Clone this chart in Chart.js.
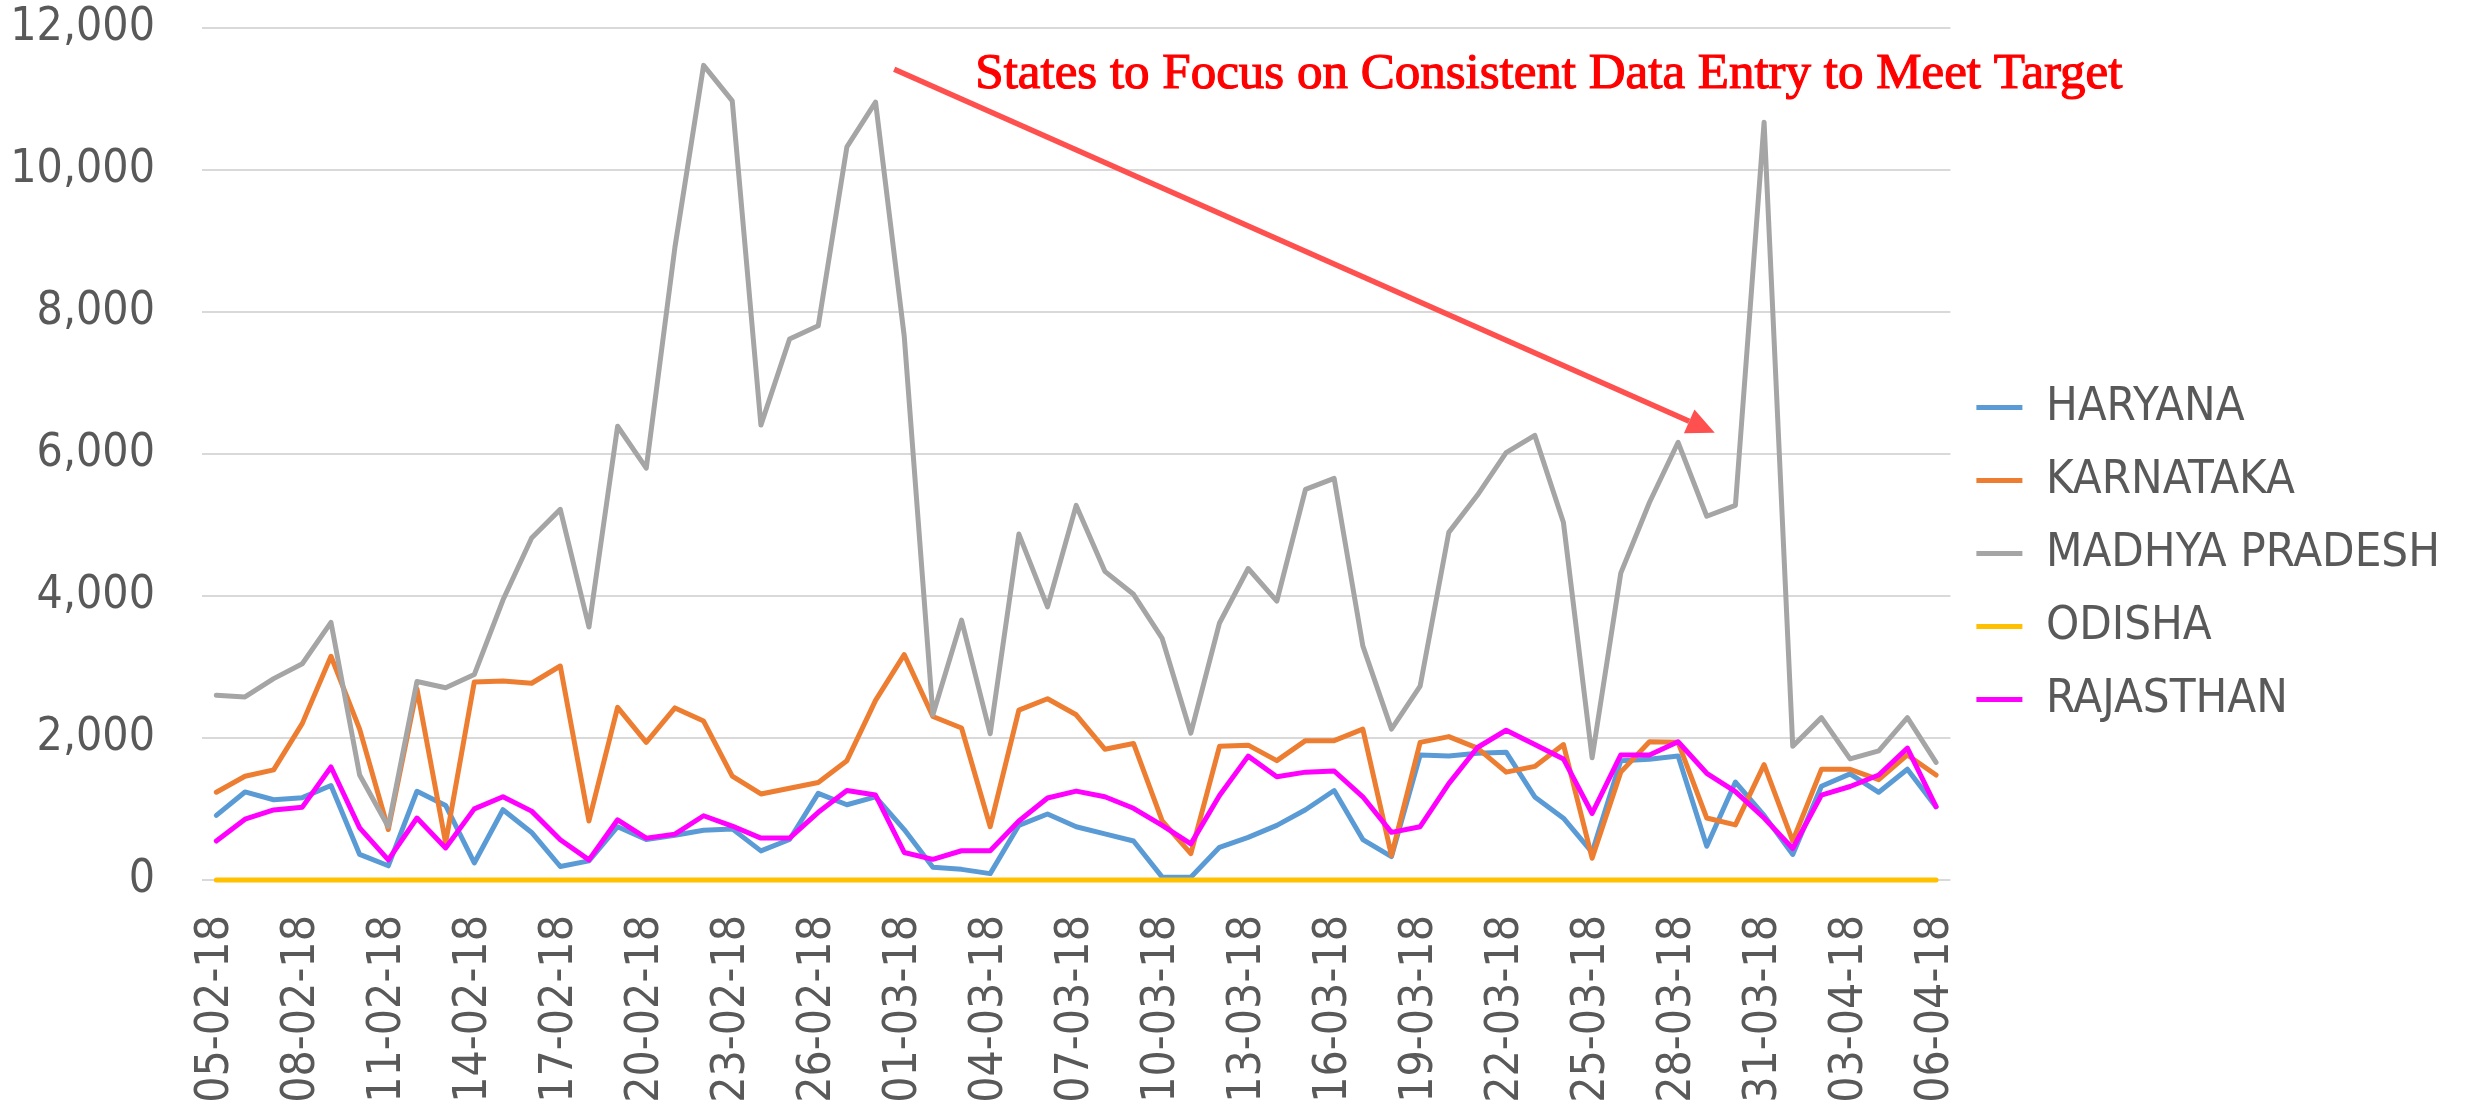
<!DOCTYPE html>
<html>
<head>
<meta charset="utf-8">
<script src="https://cdn.jsdelivr.net/npm/chart.js@4.4.1/dist/chart.umd.min.js"></script>
<style>
  html, body { margin: 0; padding: 0; background: #fff; }
  #wrap { width: 2468px; height: 1107px; position: relative; }
</style>
</head>
<body>
<div id="wrap"><canvas id="chart"></canvas></div>
<script>
// daily dates, 05-02-18 .. 06-04-18
const dates = [
  "05-02-18","06-02-18","07-02-18","08-02-18","09-02-18","10-02-18","11-02-18","12-02-18",
  "13-02-18","14-02-18","15-02-18","16-02-18","17-02-18","18-02-18","19-02-18","20-02-18",
  "21-02-18","22-02-18","23-02-18","24-02-18","25-02-18","26-02-18","27-02-18","28-02-18",
  "01-03-18","02-03-18","03-03-18","04-03-18","05-03-18","06-03-18","07-03-18","08-03-18",
  "09-03-18","10-03-18","11-03-18","12-03-18","13-03-18","14-03-18","15-03-18","16-03-18",
  "17-03-18","18-03-18","19-03-18","20-03-18","21-03-18","22-03-18","23-03-18","24-03-18",
  "25-03-18","26-03-18","27-03-18","28-03-18","29-03-18","30-03-18","31-03-18","01-04-18",
  "02-04-18","03-04-18","04-04-18","05-04-18","06-04-18"
];

const haryana = [
  910, 1240, 1130, 1160, 1330, 360, 200, 1250, 1050, 240, 990, 670, 190, 270, 750, 570,
  630, 700, 720, 410, 570, 1220, 1060, 1170, 710, 180, 150, 90, 770, 930, 750, 650,
  550, 40, 40, 460, 600, 770, 990, 1260, 570, 330, 1760, 1745, 1785, 1800, 1170, 870,
  390, 1680, 1700, 1745, 475, 1380, 910, 360, 1320, 1495, 1235, 1560, 1030
];
const karnataka = [
  1236, 1462, 1551, 2206, 3151, 2125, 711, 2690, 525, 2788, 2804, 2771, 3014, 832, 2432, 1939,
  2424, 2238, 1462, 1212, 1293, 1374, 1681, 2529, 3175, 2303, 2141, 751, 2392, 2553, 2327, 1842,
  1923, 832, 372, 1883, 1899, 1681, 1963, 1963, 2125, 347, 1939, 2020, 1858, 1519, 1600, 1907,
  307, 1519, 1947, 1939, 873, 776, 1624, 549, 1559, 1559, 1414, 1761, 1479
];
const madhyaPradesh = [
  2602, 2578, 2836, 3046, 3628, 1479, 751, 2796, 2707, 2893, 3943, 4816, 5220, 3563, 6391, 5801,
  8912, 11474, 10973, 6407, 7619, 7805, 10326, 10956, 7660, 2327, 3660, 2060, 4872, 3846, 5276, 4347,
  4024, 3402, 2068, 3620, 4387, 3927, 5502, 5656, 3297, 2125, 2731, 4896, 5422, 6020, 6262, 5034,
  1721, 4323, 5317, 6165, 5123, 5276, 10674, 1883, 2287, 1705, 1818, 2287, 1656
];
const odisha = [
  0, 0, 0, 0, 0, 0, 0, 0, 0, 0, 0, 0, 0, 0, 0, 0,
  0, 0, 0, 0, 0, 0, 0, 0, 0, 0, 0, 0, 0, 0, 0, 0,
  0, 0, 0, 0, 0, 0, 0, 0, 0, 0, 0, 0, 0, 0, 0, 0,
  0, 0, 0, 0, 0, 0, 0, 0, 0, 0, 0, 0, 0
];
const rajasthan = [
  549, 856, 986, 1026, 1592, 735, 283, 873, 452, 1002, 1172, 970, 566, 283, 848, 590,
  646, 905, 760, 590, 590, 953, 1260, 1196, 388, 291, 412, 412, 832, 1155, 1252, 1172,
  1010, 768, 509, 1190, 1745, 1454, 1519, 1535, 1172, 671, 751, 1357, 1866, 2109, 1907, 1705,
  937, 1761, 1761, 1947, 1503, 1244, 873, 444, 1196, 1317, 1479, 1858, 1034
];

const seriesNames = ["HARYANA", "KARNATAKA", "MADHYA PRADESH", "ODISHA", "RAJASTHAN"];
const seriesColors = ["#5B9BD5", "#ED7D31", "#A5A5A5", "#FFC000", "#FF00FF"];
const yTicks = [0, 2000, 4000, 6000, 8000, 10000, 12000];

// callout: text and arrow, placed in data units (category index, value)
const noteText = "States to Focus on Consistent Data Entry to Meet Target";
const notePos = [26.48, 11150];
const arrowFrom = [23.65, 11420];
const arrowTo = [52.28, 6300];

const FONT = "'DejaVu Sans Condensed', 'DejaVu Sans', sans-serif";
const TEXT = "#595959";

const allSeries = [haryana, karnataka, madhyaPradesh, odisha, rajasthan];
const datasets = allSeries.map((vals, i) => ({
  label: seriesNames[i],
  data: vals,
  borderColor: seriesColors[i],
  backgroundColor: seriesColors[i],
  borderWidth: 5,
  borderCapStyle: "round",
  borderJoinStyle: "round",
  pointRadius: 0,
  tension: 0,
  clip: false,
  order: allSeries.length - i,
}));

const calloutPlugin = {
  id: "callout",
  afterDatasetsDraw(chart) {
    const { ctx, scales } = chart;
    const xs = scales.x, ys = scales.y;
    const x1 = xs.getPixelForValue(arrowFrom[0]), y1 = ys.getPixelForValue(arrowFrom[1]);
    const x2 = xs.getPixelForValue(arrowTo[0]), y2 = ys.getPixelForValue(arrowTo[1]);
    const ang = Math.atan2(y2 - y1, x2 - x1);
    const headLen = 28, headHalf = 13;
    const bx = x2 - headLen * Math.cos(ang), by = y2 - headLen * Math.sin(ang);

    ctx.save();
    ctx.strokeStyle = "#FF5050";
    ctx.fillStyle = "#FF5050";
    ctx.lineWidth = 5.5;
    ctx.beginPath();
    ctx.moveTo(x1, y1);
    ctx.lineTo(bx, by);
    ctx.stroke();
    ctx.beginPath();
    ctx.moveTo(x2, y2);
    ctx.lineTo(bx + headHalf * Math.sin(ang), by - headHalf * Math.cos(ang));
    ctx.lineTo(bx - headHalf * Math.sin(ang), by + headHalf * Math.cos(ang));
    ctx.closePath();
    ctx.fill();

    const tx = xs.getPixelForValue(notePos[0]), ty = ys.getPixelForValue(notePos[1]);
    ctx.fillStyle = "#FF0000";
    ctx.strokeStyle = "#FF0000";
    ctx.lineWidth = 1.2;
    ctx.font = "51px 'Liberation Serif', 'Times New Roman', serif";
    ctx.textAlign = "left";
    ctx.textBaseline = "alphabetic";
    ctx.fillText(noteText, tx, ty);
    ctx.strokeText(noteText, tx, ty);
    ctx.restore();
  },
};

new Chart(document.getElementById("chart"), {
  type: "line",
  data: { labels: dates, datasets },
  options: {
    responsive: true,
    maintainAspectRatio: false,
    animation: false,
    layout: { padding: { left: 10, right: 18, top: 0, bottom: 0 } },
    plugins: {
      legend: {
        position: "right",
        labels: {
          usePointStyle: true,
          pointStyle: "line",
          pointStyleWidth: 46,
          padding: 26,
          color: TEXT,
          font: { family: FONT, size: 47 },
          sort: (a, b) => a.datasetIndex - b.datasetIndex,
        },
      },
      tooltip: { enabled: false },
    },
    scales: {
      x: {
        offset: true,
        grid: { display: false, drawTicks: false },
        border: { display: false },
        ticks: {
          autoSkip: false,
          maxRotation: 90,
          minRotation: 90,
          padding: 35,
          color: TEXT,
          font: { family: FONT, size: 46 },
          callback: (v, i) => (i % 3 === 0 ? dates[i] : ""),
        },
        afterFit: (scale) => {
          scale.height = 227;
          scale.paddingLeft = 0;
          scale.paddingRight = 0;
        },
      },
      y: {
        min: yTicks[0],
        max: yTicks[yTicks.length - 1],
        afterBuildTicks: (scale) => { scale.ticks = yTicks.map((v) => ({ value: v })); },
        grid: { color: "#D9D9D9", lineWidth: 2, drawTicks: false },
        border: { display: false },
        ticks: {
          padding: 47,
          color: TEXT,
          font: { family: FONT, size: 46 },
          callback: (v) => v.toLocaleString("en-US"),
        },
        afterFit: (scale) => {
          scale.width = 192;
          scale.paddingTop = 28;
          scale.paddingBottom = 0;
        },
      },
    },
  },
  plugins: [calloutPlugin],
});
</script>
</body>
</html>
